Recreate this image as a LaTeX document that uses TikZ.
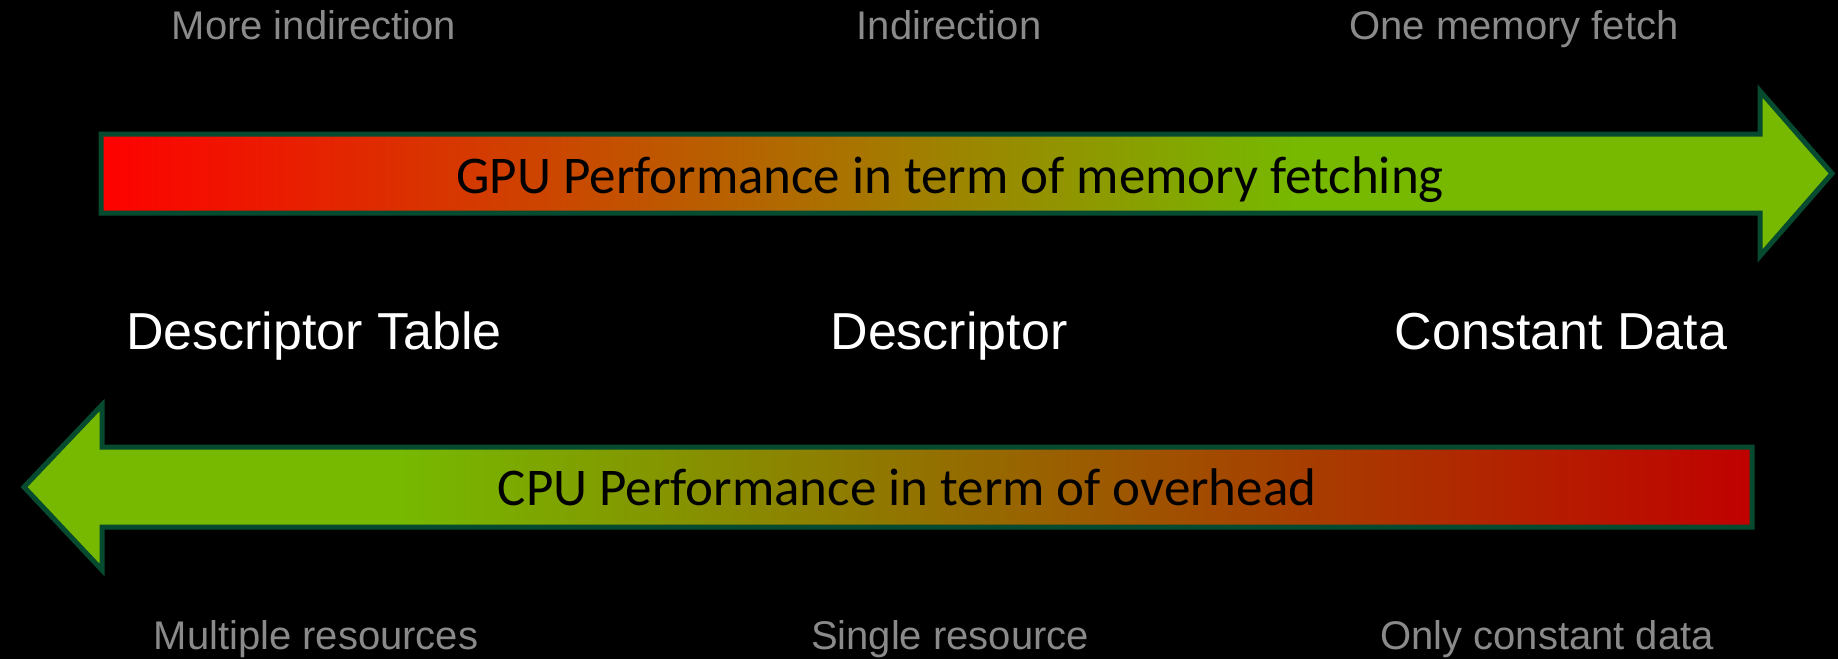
\documentclass[tikz,border=0pt]{standalone}
\usepackage{fontspec}
\setmainfont{Liberation Sans}
\newfontfamily\barfont{Carlito}
\definecolor{edgegreen}{RGB}{6,74,48}
\definecolor{nvgreen}{RGB}{118,185,0}
\definecolor{hotred}{RGB}{255,0,0}
\definecolor{deepred}{RGB}{192,0,0}
\definecolor{labelgray}{RGB}{138,138,138}
\begin{document}
\begin{tikzpicture}[x=1pt,y=-1pt,
  sidelbl/.style={font=\fontsize{40}{40}\selectfont, text=labelgray, inner sep=0pt, anchor=base},
  kindlbl/.style={font=\fontsize{52}{52}\selectfont, text=white, inner sep=0pt, anchor=base},
  barlbl/.style={font=\barfont\fontsize{53}{53}\selectfont, text=black, inner sep=0pt, anchor=base},
  outline/.style={draw=edgegreen, line width=5pt, line join=miter, miter limit=10}]

% page background
\fill[black] (0,0) rectangle (1838,659);
\useasboundingbox (0,0) rectangle (1838,659);

% upper arrow, pointing right: red to green
\begin{scope}
  \clip (101,134) -- (1760,134) -- (1760,91) -- (1832,173.5) -- (1760,256) -- (1760,213) -- (101,213) -- cycle;
  \shade[left color=hotred, right color=nvgreen] (96,85) rectangle (1300,262);
  \fill[nvgreen] (1299,85) rectangle (1840,262);
\end{scope}
\draw[outline] (101,134) -- (1760,134) -- (1760,91) -- (1832,173.5) -- (1760,256) -- (1760,213) -- (101,213) -- cycle;

% lower arrow, pointing left: green to red
\begin{scope}
  \clip (1752,447) -- (102,447) -- (102,405) -- (24,487) -- (102,570) -- (102,527) -- (1752,527) -- cycle;
  \fill[nvgreen] (18,400) rectangle (401,575);
  \shade[left color=nvgreen, right color=deepred] (400,400) rectangle (1758,575);
\end{scope}
\draw[outline] (1752,447) -- (102,447) -- (102,405) -- (24,487) -- (102,570) -- (102,527) -- (1752,527) -- cycle;

% arrow captions
\node[barlbl] (gpu) at (950,193) {GPU Performance in term of memory fetching};
\node[barlbl] (cpu) at (907,505) {CPU Performance in term of overhead};

% upper notes
\node[sidelbl] (more) at (314,39) {More indirection};
\node[sidelbl] (ind) at (949,39) {Indirection};
\node[sidelbl] (one) at (1514,39) {One memory fetch};

% binding kinds
\node[kindlbl] (table) at (314,349) {Descriptor Table};
\node[kindlbl] (desc) at (949,349) {Descriptor};
\node[kindlbl] (const) at (1561,349) {Constant Data};

% lower notes
\node[sidelbl] (multi) at (316,649) {Multiple resources};
\node[sidelbl] (single) at (950,649) {Single resource};
\node[sidelbl] (only) at (1547,649) {Only constant data};
\end{tikzpicture}
\end{document}
